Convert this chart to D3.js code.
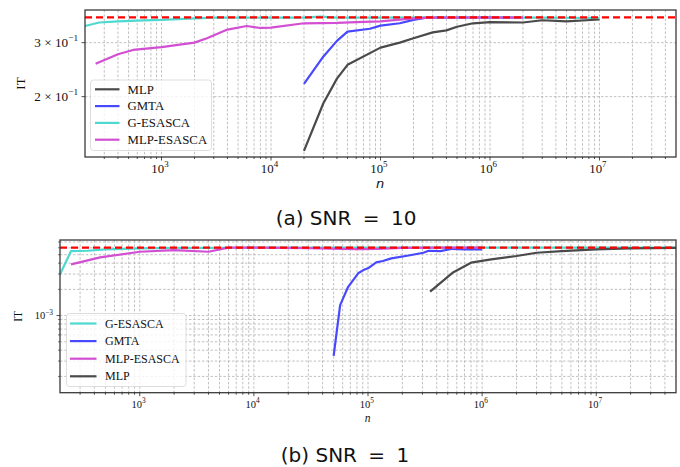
<!DOCTYPE html>
<html>
<head>
<meta charset="utf-8">
<script src="https://cdn.jsdelivr.net/npm/d3@7"></script>
<style>
  body { margin: 0; background: #fff; }
  svg { display: block; }
</style>
</head>
<body>
<svg id="mainFrame"></svg>
<script>
// ---- data: SNR = 10 (top panel) ----
const topMlpN = [2e4, 3e4, 4e4, 5e4, 1e5, 1.5e5, 2e5, 3e5, 4e5, 5e5, 7e5, 1e6, 2e6, 3e6, 5e6, 1e7]
const topMlpIT = [0.133, 0.190, 0.229, 0.254, 0.289, 0.300, 0.310, 0.324, 0.329, 0.338, 0.347, 0.350, 0.349, 0.355, 0.352, 0.357]
const topGmtaN = [2e4, 3e4, 4e4, 5e4, 8e4, 1e5, 1.5e5, 2e5, 2.6e5, 5e5, 1e6, 2e6]
const topGmtaIT = [0.220, 0.270, 0.304, 0.326, 0.333, 0.341, 0.347, 0.356, 0.362, 0.362, 0.363, 0.362]
const topGesN = [200, 270, 400, 600, 1e3, 2e3, 3e3, 1e4, 2e4, 2.8e4, 4e4, 1e5, 3e5, 1e6, 3e6, 1e7]
const topGesIT = [0.340, 0.349, 0.352, 0.354, 0.356, 0.360, 0.362, 0.362, 0.362, 0.365, 0.362, 0.362, 0.363, 0.362, 0.362, 0.361]
const topMlpEsN = [250, 400, 550, 1e3, 2e3, 2.6e3, 4e3, 6e3, 8e3, 1e4, 2e4, 4e4, 6e4, 1e5, 2e5, 3e5, 1e6, 2e6]
const topMlpEsIT = [0.256, 0.275, 0.284, 0.290, 0.300, 0.310, 0.331, 0.340, 0.335, 0.336, 0.347, 0.348, 0.350, 0.352, 0.360, 0.362, 0.362, 0.362]
const topBound = 0.3628

// ---- data: SNR = 1 (bottom panel) ----
const botGesN = [200, 250, 350, 500, 1e3, 2e3, 5e3, 1e4, 1e5, 1e6, 1e7, 5e7]
const botGesIT = [2.98e-3, 5.51e-3, 5.55e-3, 5.75e-3, 5.90e-3, 5.98e-3, 6.0e-3, 6.02e-3, 6.02e-3, 6.02e-3, 6.02e-3, 6.02e-3]
const botGmtaN = [5e4, 5.7e4, 6.7e4, 8.2e4, 9.1e4, 1e5, 1.18e5, 1.35e5, 1.6e5, 2.2e5, 3.06e5, 3.4e5, 4.3e5, 5.5e5, 7e5, 1e6]
const botGmtaIT = [3.45e-4, 1.32e-3, 2.14e-3, 3.06e-3, 3.33e-3, 3.49e-3, 4.08e-3, 4.23e-3, 4.54e-3, 4.87e-3, 5.27e-3, 5.55e-3, 5.51e-3, 5.85e-3, 5.77e-3, 5.77e-3]
const botMlpEsN = [250, 450, 1e3, 2e3, 4e3, 6e3, 1e4, 3e4, 6e4, 8e4, 1.2e5, 2e5, 5e5, 1e6]
const botMlpEsIT = [3.88e-3, 4.66e-3, 5.41e-3, 5.66e-3, 5.41e-3, 6.02e-3, 6.02e-3, 5.95e-3, 5.85e-3, 5.80e-3, 5.85e-3, 6.0e-3, 6.02e-3, 6.02e-3]
const botMlpN = [3.5e5, 5.5e5, 8e5, 1.2e6, 2e6, 3e6, 5e6, 1e7, 2e7, 5e7]
const botMlpIT = [1.88e-3, 3.10e-3, 4.05e-3, 4.43e-3, 4.83e-3, 5.27e-3, 5.51e-3, 5.77e-3, 5.90e-3, 5.98e-3]
const botBound = 6.02e-3

const xMajorTicks = [1e3, 1e4, 1e5, 1e6, 1e7]
const xTickLabels = ['3', '4', '5', '6', '7']

const colors = {
    'MLP': '#4a4a4a',
    'GMTA': '#4848ff',
    'G-ESASCA': '#4dd9d0',
    'MLP-ESASCA': '#d24ed2'
}

const svg = d3.select('#mainFrame')
    .attr('width', 680)
    .attr('height', 467)

svg.append('rect').attr('width', 680).attr('height', 467).attr('fill', '#fff')

const zip = (ns, vs) => ns.map((n, i) => ({n: n, v: vs[i]}))

const drawPanel = cfg => {
    const x = d3.scaleLog().domain([200, 5e7]).range([cfg.left, cfg.right])
    const y = d3.scaleLog().domain(cfg.yDomain).range([cfg.bottom, cfg.top])
    const g = svg.append('g')

    // vertical grid at every 1..9 x 10^k
    const xMinor = []
    for (let k = 2; k <= 7; k++) {
        for (let m = 1; m <= 9; m++) {
            const v = m * Math.pow(10, k)
            if (v > 200 && v < 5e7) xMinor.push(v)
        }
    }
    g.append('g').selectAll('line')
        .data(xMinor)
        .join('line')
        .attr('x1', d => x(d)).attr('x2', d => x(d))
        .attr('y1', cfg.top).attr('y2', cfg.bottom)
        .attr('stroke', '#b0b0b0')
        .attr('stroke-width', 0.8)
        .attr('stroke-dasharray', '2.5,1.8')

    g.append('g').selectAll('line')
        .data(cfg.yGrid)
        .join('line')
        .attr('x1', cfg.left).attr('x2', cfg.right)
        .attr('y1', d => y(d)).attr('y2', d => y(d))
        .attr('stroke', '#b0b0b0')
        .attr('stroke-width', 0.8)
        .attr('stroke-dasharray', '2.5,1.8')

    // curves
    const line = d3.line().x(d => x(d.n)).y(d => y(d.v))
    const plot = g.append('g')
    cfg.series.forEach(s => {
        plot.append('path')
            .attr('d', line(zip(s.n, s.v)))
            .attr('fill', 'none')
            .attr('stroke', colors[s.name])
            .attr('stroke-width', 2.2)
            .attr('stroke-linejoin', 'round')
    })
    plot.append('line')
        .attr('x1', cfg.left).attr('x2', cfg.right)
        .attr('y1', y(cfg.bound)).attr('y2', y(cfg.bound))
        .attr('stroke', '#ff0000')
        .attr('stroke-width', 2.2)
        .attr('stroke-dasharray', '7,4')

    // frame
    g.append('rect')
        .attr('x', cfg.left).attr('y', cfg.top)
        .attr('width', cfg.right - cfg.left).attr('height', cfg.bottom - cfg.top)
        .attr('fill', 'none')
        .attr('stroke', '#3a3a3a')
        .attr('stroke-width', 1.3)

    // x ticks
    g.append('g').selectAll('line')
        .data(xMinor)
        .join('line')
        .attr('x1', d => x(d)).attr('x2', d => x(d))
        .attr('y1', cfg.bottom).attr('y2', d => cfg.bottom + (xMajorTicks.includes(d) ? 3.5 : 2))
        .attr('stroke', '#222')
        .attr('stroke-width', 0.8)

    const xl = g.append('g').selectAll('text')
        .data(xMajorTicks)
        .join('text')
        .attr('x', d => x(d) - cfg.xFont * 0.12)
        .attr('y', cfg.bottom + cfg.xLabelDy)
        .attr('text-anchor', 'middle')
        .attr('font-family', 'Liberation Serif, serif')
        .attr('font-size', cfg.xFont)
        .attr('fill', '#111')
    xl.append('tspan').text('10')
    xl.append('tspan')
        .text((d, i) => xTickLabels[i])
        .attr('dy', -cfg.xFont * 0.42)
        .attr('font-size', cfg.xFont * 0.7)

    // y ticks
    g.append('g').selectAll('line')
        .data(cfg.yTicks)
        .join('line')
        .attr('x1', cfg.left - 3.5).attr('x2', cfg.left)
        .attr('y1', d => y(d.v)).attr('y2', d => y(d.v))
        .attr('stroke', '#222')
        .attr('stroke-width', 0.8)
    if (cfg.yMinor) {
        g.append('g').selectAll('line')
            .data(cfg.yMinor)
            .join('line')
            .attr('x1', cfg.left - 2).attr('x2', cfg.left)
            .attr('y1', d => y(d)).attr('y2', d => y(d))
            .attr('stroke', '#222')
            .attr('stroke-width', 0.6)
    }
    const yl = g.append('g').selectAll('text')
        .data(cfg.yTicks)
        .join('text')
        .attr('x', cfg.left - 7)
        .attr('y', d => y(d.v) + cfg.yFont * 0.33)
        .attr('text-anchor', 'end')
        .attr('font-family', 'Liberation Serif, serif')
        .attr('font-size', cfg.yFont)
        .attr('fill', '#111')
    yl.append('tspan').text(d => d.mant)
    yl.append('tspan')
        .text(d => d.exp)
        .attr('dy', -cfg.yFont * 0.42)
        .attr('font-size', cfg.yFont * 0.7)

    // axis titles
    g.append('text')
        .attr('transform', `translate(${cfg.yTitleX},${(cfg.top + cfg.bottom) / 2}) rotate(-90)`)
        .attr('text-anchor', 'middle')
        .attr('font-family', 'Liberation Serif, serif')
        .attr('font-size', cfg.titleFont)
        .attr('fill', '#111')
        .text('IT')
    g.append('text')
        .attr('x', (cfg.left + cfg.right) / 2 + cfg.nShift)
        .attr('y', cfg.bottom + cfg.nDy)
        .attr('text-anchor', 'middle')
        .attr('font-family', cfg.nFamily)
        .attr('font-style', 'italic')
        .attr('font-size', cfg.titleFont)
        .attr('fill', '#111')
        .text('n')

    // legend
    const lg = g.append('g').attr('transform', `translate(${cfg.legend.x},${cfg.legend.y})`)
    lg.append('rect')
        .attr('width', cfg.legend.w).attr('height', cfg.legend.h)
        .attr('rx', 3)
        .attr('fill', 'rgba(255,255,255,0.8)')
        .attr('stroke', '#d6d6d6')
        .attr('stroke-width', 0.8)
    cfg.legend.order.forEach((name, i) => {
        const yy = cfg.legend.first + i * cfg.legend.step
        lg.append('line')
            .attr('x1', cfg.legend.lx0).attr('x2', cfg.legend.lx1)
            .attr('y1', yy).attr('y2', yy)
            .attr('stroke', colors[name])
            .attr('stroke-width', 2.2)
        lg.append('text')
            .attr('x', cfg.legend.tx)
            .attr('y', yy + cfg.legend.font * 0.34)
            .attr('font-family', 'Liberation Serif, serif')
            .attr('font-size', cfg.legend.font)
            .attr('fill', '#111')
            .text(name)
    })

    // caption: "(x) SNR = v", with wider space round the "="
    const cap = svg.append('text')
        .attr('x', cfg.caption.x)
        .attr('y', cfg.caption.y)
        .attr('text-anchor', 'middle')
        .attr('font-family', 'DejaVu Sans, sans-serif')
        .attr('font-size', 20)
        .attr('fill', '#111')
    cap.append('tspan').text(cfg.caption.head)
    cap.append('tspan').attr('dx', 5).text('=')
    cap.append('tspan').attr('dx', 5).text(cfg.caption.value)
}

drawPanel({
    left: 85, right: 676, top: 10, bottom: 157,
    yDomain: [0.1271, 0.3834],
    yGrid: [0.2, 0.3],
    yTicks: [{v: 0.2, mant: '2 × 10', exp: '−1'}, {v: 0.3, mant: '3 × 10', exp: '−1'}],
    yFont: 13.2, xFont: 12.8, xLabelDy: 15.5,
    titleFont: 13, yTitleX: 25, nShift: -0.5, nDy: 31,
    nFamily: 'DejaVu Sans, sans-serif',
    bound: topBound,
    series: [
        {name: 'MLP', n: topMlpN, v: topMlpIT},
        {name: 'GMTA', n: topGmtaN, v: topGmtaIT},
        {name: 'G-ESASCA', n: topGesN, v: topGesIT},
        {name: 'MLP-ESASCA', n: topMlpEsN, v: topMlpEsIT}
    ],
    legend: {x: 90.5, y: 80, w: 121, h: 70.5, first: 9.3, step: 16.8, lx0: 4.5, lx1: 29, tx: 37, font: 12.8,
        order: ['MLP', 'GMTA', 'G-ESASCA', 'MLP-ESASCA']},
    caption: {x: 346, y: 225, head: '(a) SNR ', value: ' 10'}
})

drawPanel({
    left: 60, right: 676, top: 240, bottom: 392.7,
    yDomain: [1.30e-4, 7.38e-3],
    yGrid: [2e-4, 3e-4, 4e-4, 5e-4, 6e-4, 7e-4, 8e-4, 9e-4, 1e-3, 2e-3, 3e-3, 4e-3, 5e-3, 6e-3, 7e-3],
    yMinor: [2e-4, 3e-4, 4e-4, 5e-4, 6e-4, 7e-4, 8e-4, 9e-4, 2e-3, 3e-3, 4e-3, 5e-3, 6e-3, 7e-3],
    yTicks: [{v: 1e-3, mant: '10', exp: '−3'}],
    yFont: 10.5, xFont: 10.5, xLabelDy: 15,
    titleFont: 11.5, yTitleX: 22, nShift: -0.5, nDy: 29.5,
    nFamily: 'Liberation Serif, serif',
    bound: botBound,
    series: [
        {name: 'G-ESASCA', n: botGesN, v: botGesIT},
        {name: 'GMTA', n: botGmtaN, v: botGmtaIT},
        {name: 'MLP-ESASCA', n: botMlpEsN, v: botMlpEsIT},
        {name: 'MLP', n: botMlpN, v: botMlpIT}
    ],
    legend: {x: 66.5, y: 313.5, w: 119.5, h: 73, first: 10, step: 17.6, lx0: 3.5, lx1: 30, tx: 38.5, font: 12,
        order: ['G-ESASCA', 'GMTA', 'MLP-ESASCA', 'MLP']},
    caption: {x: 345, y: 462, head: '(b) SNR ', value: ' 1'}
})
</script>
</body>
</html>
